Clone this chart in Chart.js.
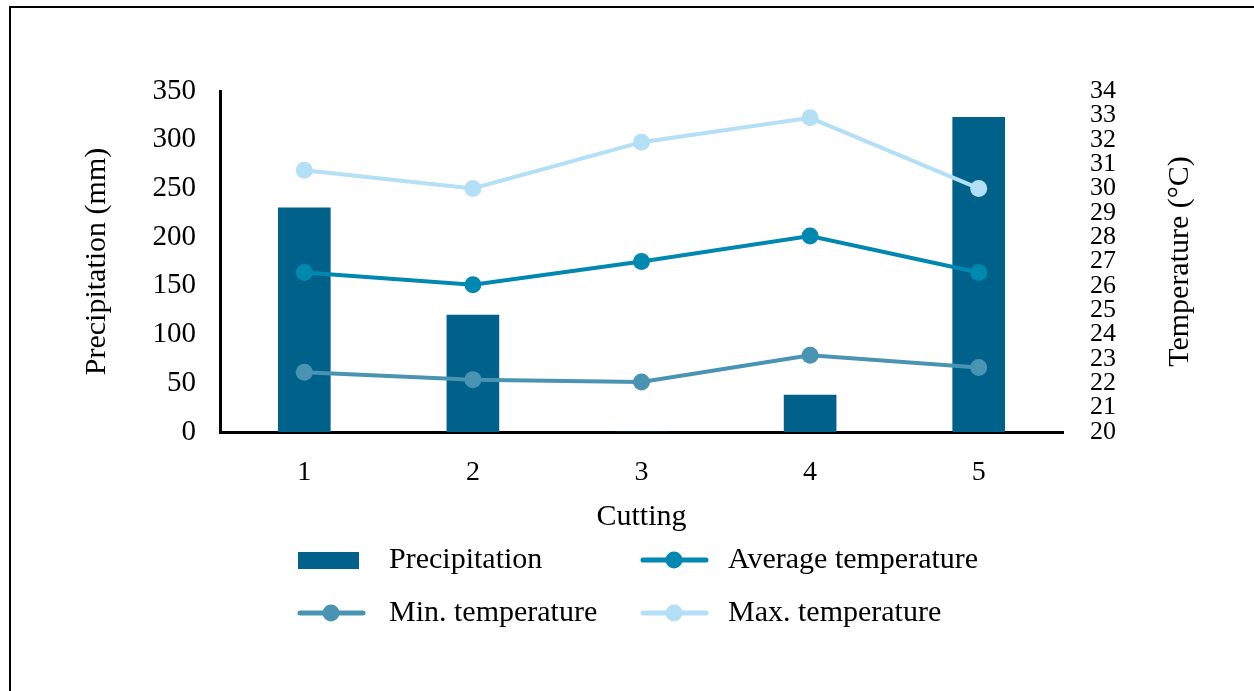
<!DOCTYPE html>
<html>
<head>
<meta charset="utf-8">
<script src="https://cdn.jsdelivr.net/npm/chart.js@4"></script>
<style>
  body { margin: 0; background: #fff; }
  #frame { position: absolute; left: 9px; top: 6px; width: 1300px; height: 800px; border-left: 2px solid #000; border-top: 2px solid #000; }
  #wrap { position: absolute; left: 0; top: 0; width: 1254px; height: 691px; }
</style>
</head>
<body>
<div id="frame"></div>
<div id="wrap"><canvas id="chart"></canvas></div>
<script>
var cuttings = ['1', '2', '3', '4', '5'];
var precipitation = [230, 120, 0, 38, 323];
var avgTemp = [26.55, 26.05, 27.0, 28.05, 26.55];
var minTemp = [22.45, 22.15, 22.05, 23.15, 22.65];
var maxTemp = [30.75, 30.0, 31.9, 32.9, 30.0];

var serif = 'Liberation Serif';

function lineSet(label, data, color) {
    return {
        type: 'line',
        label: label,
        data: data,
        yAxisID: 'y1',
        borderColor: color,
        backgroundColor: color,
        borderWidth: 4,
        pointRadius: 8.5,
        pointBorderWidth: 0,
        order: 1
    };
}

// legend drawn in two fixed columns like the original
var legendGrid = {
    id: 'legendGrid',
    afterDraw: function(chart) {
        var ctx = chart.ctx;
        var cols = [298, 641];
        var textX = [389, 728];
        var rows = [560, 613];
        ctx.save();
        ctx.font = '30px "' + serif + '"';
        ctx.textBaseline = 'middle';
        chart.data.datasets.forEach(function(ds, k) {
            var x = cols[k % 2], y = rows[Math.floor(k / 2)];
            if (ds.type === 'line') {
                ctx.strokeStyle = ds.borderColor;
                ctx.lineWidth = 5;
                ctx.lineCap = 'round';
                ctx.beginPath();
                ctx.moveTo(x + 2, y);
                ctx.lineTo(x + 65, y);
                ctx.stroke();
                ctx.fillStyle = ds.borderColor;
                ctx.beginPath();
                ctx.arc(x + 33, y, 8.5, 0, Math.PI * 2);
                ctx.fill();
            } else {
                ctx.fillStyle = ds.backgroundColor;
                ctx.fillRect(x, y - 8, 61, 17);
            }
            ctx.fillStyle = '#000';
            ctx.fillText(ds.label, textX[k % 2], y);
        });
        // right axis title, reading bottom to top
        var a = chart.chartArea;
        ctx.translate(1180, (a.top + a.bottom) / 2);
        ctx.rotate(-Math.PI / 2);
        ctx.textAlign = 'center';
        ctx.fillText('Temperature (°C)', 0, 0);
        ctx.restore();
    }
};

var ctx = document.getElementById('chart').getContext('2d');
var chart = new Chart(ctx, {
    type: 'bar',
    data: {
        labels: cuttings,
        datasets: [
            {
                type: 'bar',
                label: 'Precipitation',
                data: precipitation,
                yAxisID: 'y',
                backgroundColor: '#00628B',
                barThickness: 52,
                order: 2
            },
            lineSet('Average temperature', avgTemp, '#0088B1'),
            lineSet('Min. temperature', minTemp, '#4A94B3'),
            lineSet('Max. temperature', maxTemp, '#B3DFF7')
        ]
    },
    options: {
        responsive: true,
        maintainAspectRatio: false,
        animation: false,
        layout: { padding: { left: 75, right: 54, top: 91, bottom: 156 } },
        plugins: {
            legend: { display: false },
            tooltip: { enabled: false }
        },
        scales: {
            x: {
                offset: true,
                grid: { display: false, drawTicks: false },
                border: { color: '#000', width: 3 },
                ticks: { color: '#000', font: { family: serif, size: 28 }, padding: 24 },
                title: { display: true, text: 'Cutting', color: '#000', font: { family: serif, size: 30 }, padding: { top: 4, bottom: 0 } },
                afterFit: function(scale) { scale.height = 103; }
            },
            y: {
                position: 'left',
                min: 0,
                max: 350,
                grid: { display: false, drawTicks: false },
                border: { color: '#000', width: 3 },
                ticks: { stepSize: 50, color: '#000', font: { family: serif, size: 29 }, padding: 24 },
                title: { display: true, text: 'Precipitation (mm)', color: '#000', font: { family: serif, size: 30 } },
                afterFit: function(scale) { scale.width = 145; }
            },
            y1: {
                position: 'right',
                min: 20,
                max: 34,
                grid: { display: false, drawTicks: false },
                border: { display: false },
                ticks: { stepSize: 1, autoSkip: false, color: '#000', font: { family: serif, size: 26 }, padding: 27 },
                afterFit: function(scale) { scale.width = 137; }
            }
        }
    },
    plugins: [legendGrid]
});
</script>
</body>
</html>
